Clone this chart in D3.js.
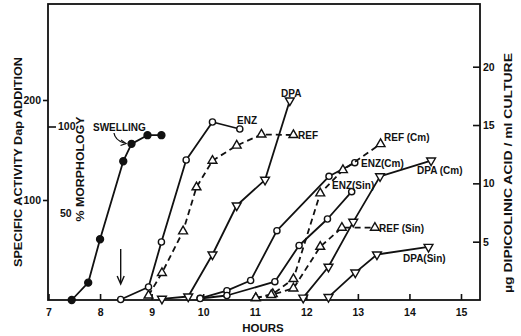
<!DOCTYPE html>
<html>
<head>
<meta charset="utf-8">
<script src="https://cdn.jsdelivr.net/npm/d3@7"></script>
<style>
  html, body { margin: 0; padding: 0; background: #fff; }
  svg { display: block; }
  text { font-family: "Liberation Sans", Arial, Helvetica, sans-serif; font-weight: bold; fill: #111; }
</style>
</head>
<body>
<svg id="chart" width="521" height="336"></svg>
<script>
// Time axis (hours) and the three value axes
const hourTicks = [7, 8, 9, 10, 11, 12, 13, 14, 15];
const activityTicks = [100, 200];
const morphologyTicks = [50, 100];
const dpaTicks = [5, 10, 15, 20];

// Swelling, % morphology (filled circles)
const swellingHours = [7.45, 7.77, 8.0, 8.45, 8.61, 8.92, 9.19];
const swellingPct = [0, 10, 35, 80, 90, 95, 95];

// Enzyme specific activity (open circles)
const enzHours = [8.40, 8.94, 9.19, 9.67, 10.18, 10.71];
const enzActivity = [0.5, 13, 58, 140, 178, 171];
const enzCmHours = [9.94, 10.46, 10.92, 11.43, 12.44, 12.94];
const enzCmActivity = [1.7, 9.3, 19.5, 69.3, 123.7, 137.3];
const enzSinHours = [9.94, 10.46, 11.39, 11.86, 12.41, 12.88];
const enzSinActivity = [1.5, 4.5, 18.3, 54.5, 81, 108.3];

// Refractility, % morphology (open triangles, dashed)
const refHours = [8.94, 9.20, 9.61, 9.87, 10.18, 10.65, 11.13, 11.75];
const refPct = [2.6, 15.6, 39.6, 65, 80.3, 89, 95.4, 95.1];
const refCmHours = [11.02, 11.35, 11.75, 12.27, 12.71, 13.44];
const refCmPct = [1.2, 3.5, 12.1, 61.5, 74.9, 89.9];
const refSinHours = [11.02, 11.32, 11.75, 12.27, 12.69, 13.33];
const refSinPct = [1.2, 2.9, 6.7, 30.7, 41.7, 41.7];

// Dipicolinic acid, µg/ml culture (inverted triangles)
const dpaHours = [9.20, 9.71, 10.18, 10.65, 11.20, 11.68];
const dpaUg = [0.1, 0.3, 3.9, 8.1, 10.3, 17.1];
const dpaCmHours = [11.94, 12.43, 12.91, 13.43, 14.42];
const dpaCmUg = [0.2, 2.85, 6.7, 10.6, 11.95];
const dpaSinHours = [12.43, 12.95, 13.37, 14.37];
const dpaSinUg = [0.25, 2.35, 3.9, 4.55];

const svg = d3.select("#chart");

const x = d3.scaleLinear().domain([7, 15]).range([48.5, 461]);
const yAct = d3.scaleLinear().domain([0, 200]).range([300, 100]);
const yPct = d3.scaleLinear().domain([0, 100]).range([300, 126.5]);
const yDpa = d3.scaleLinear().domain([0, 20]).range([300, 66.7]);

const frame = { left: 48, right: 480, top: 4, bottom: 300 };
const ink = "#111";

// Frame
svg.append("rect")
  .attr("x", frame.left).attr("y", frame.top)
  .attr("width", frame.right - frame.left).attr("height", frame.bottom - frame.top)
  .attr("fill", "none").attr("stroke", ink).attr("stroke-width", 1.8);

// Bottom axis: ticks pointing into the plot
const xAxis = svg.append("g").attr("transform", `translate(0,${frame.bottom})`)
  .call(d3.axisBottom(x).tickValues(hourTicks).tickSize(-6).tickPadding(9).tickFormat(d3.format("d")));
xAxis.select(".domain").remove();
xAxis.selectAll("line").attr("stroke", ink).attr("stroke-width", 1.6);
xAxis.selectAll("text").style("font-size", "10.5px").style("font-family", "Liberation Sans, Arial, sans-serif").style("font-weight", "bold").attr("fill", ink);

// Left axis: specific activity, ticks outward
const aAxis = svg.append("g").attr("transform", `translate(${frame.left},0)`)
  .call(d3.axisLeft(yAct).tickValues(activityTicks).tickSize(5).tickPadding(2));
aAxis.select(".domain").remove();
aAxis.selectAll("line").attr("stroke", ink).attr("stroke-width", 1.6);
aAxis.selectAll("text").style("font-size", "10.5px").style("font-family", "Liberation Sans, Arial, sans-serif").style("font-weight", "bold").attr("fill", ink);

// Inner axis: % morphology, ticks inward
const mAxis = svg.append("g").attr("transform", `translate(${frame.left},0)`)
  .call(d3.axisRight(yPct).tickValues(morphologyTicks).tickSize(8).tickPadding(2));
mAxis.select(".domain").remove();
mAxis.selectAll("line").attr("stroke", ink).attr("stroke-width", 1.6);
mAxis.selectAll("line").filter(d => d === 50).attr("x2", 0);
mAxis.selectAll("text").style("font-size", "10.5px").style("font-family", "Liberation Sans, Arial, sans-serif").style("font-weight", "bold").attr("fill", ink)
  .filter(d => d === 50).attr("x", 12);

// Right axis: DPA, ticks inward, labels outside
const dAxis = svg.append("g").attr("transform", `translate(${frame.right},0)`)
  .call(d3.axisRight(yDpa).tickValues(dpaTicks).tickSize(0).tickPadding(3));
dAxis.select(".domain").remove();
dAxis.selectAll(".tick").append("line").attr("x1", -7).attr("x2", 0).attr("stroke", ink).attr("stroke-width", 1.6);
dAxis.selectAll("text").style("font-size", "10.5px").style("font-family", "Liberation Sans, Arial, sans-serif").style("font-weight", "bold").attr("fill", ink);

// Axis titles
svg.append("text").attr("transform", "translate(22,162) rotate(-90)")
  .attr("text-anchor", "middle").style("font-size", "11.5px")
  .attr("textLength", 210).attr("lengthAdjust", "spacingAndGlyphs")
  .text("SPECIFIC ACTIVITY Dap ADDITION");
svg.append("text").attr("transform", "translate(84,169) rotate(-90)")
  .attr("text-anchor", "middle").style("font-size", "11.5px")
  .attr("textLength", 105).attr("lengthAdjust", "spacingAndGlyphs")
  .text("% MORPHOLOGY");
svg.append("text").attr("transform", "translate(512,173) rotate(-90)")
  .attr("text-anchor", "middle").style("font-size", "11.5px")
  .attr("textLength", 240).attr("lengthAdjust", "spacingAndGlyphs")
  .text("µg DIPICOLINIC ACID / ml CULTURE");
svg.append("text").attr("x", 263).attr("y", 332)
  .attr("text-anchor", "middle").style("font-size", "11.5px").text("HOURS");

// Series drawing helpers
const zip = (hs, vs) => hs.map((h, i) => [h, vs[i]]);
function drawLine(pts, yScale, dashed) {
  svg.append("path")
    .attr("d", d3.line().x(d => x(d[0])).y(d => yScale(d[1]))(pts))
    .attr("fill", "none").attr("stroke", ink).attr("stroke-width", 1.8)
    .attr("stroke-dasharray", dashed ? "6,4" : null)
    .attr("stroke-linejoin", "round");
}
function drawMarkers(pts, yScale, kind) {
  const g = svg.append("g");
  g.selectAll("path").data(pts).join("path")
    .attr("transform", d => {
      const rot = kind === "down" ? " rotate(180)" : "";
      return `translate(${x(d[0])},${yScale(d[1])})${rot}`;
    })
    .attr("d", kind === "filled" || kind === "open"
      ? d3.symbol(d3.symbolCircle, kind === "filled" ? 38 : 30)()
      : d3.symbol(d3.symbolTriangle, 34)())
    .attr("fill", kind === "filled" ? ink : "#fff")
    .attr("stroke", ink).attr("stroke-width", 1.4);
}
function series(hs, vs, yScale, kind, dashed) {
  const pts = zip(hs, vs);
  drawLine(pts, yScale, dashed);
  drawMarkers(pts, yScale, kind);
}

series(enzCmHours, enzCmActivity, yAct, "open", false);
series(enzSinHours, enzSinActivity, yAct, "open", false);
series(refCmHours, refCmPct, yPct, "up", true);
series(refSinHours, refSinPct, yPct, "up", true);
series(dpaCmHours, dpaCmUg, yDpa, "down", false);
series(dpaSinHours, dpaSinUg, yDpa, "down", false);
series(dpaHours, dpaUg, yDpa, "down", false);
series(refHours, refPct, yPct, "up", true);
series(enzHours, enzActivity, yAct, "open", false);
series(swellingHours, swellingPct, yPct, "filled", false);

// Series labels
const labels = [
  ["SWELLING", 93, 130.5],
  ["ENZ", 237, 124],
  ["REF", 298, 139],
  ["DPA", 281, 97],
  ["REF (Cm)", 384, 141],
  ["ENZ(Cm)", 361, 166.5],
  ["ENZ(Sin)", 332, 189],
  ["DPA (Cm)", 417, 174],
  ["REF (Sin)", 379, 231.5],
  ["DPA(Sin)", 403, 262]
];
svg.selectAll("text.lbl").data(labels).join("text").attr("class", "lbl")
  .attr("x", d => d[1]).attr("y", d => d[2])
  .style("font-size", "10px").text(d => d[0]);

// Curved pointer from the swelling label
svg.append("path").attr("d", "M114,133 Q115,140 124,143")
  .attr("fill", "none").attr("stroke", ink).attr("stroke-width", 1.3);
svg.append("path").attr("d", "M121,140 L126,143.5 L120.5,145.5")
  .attr("fill", "none").attr("stroke", ink).attr("stroke-width", 1.3);

// Down arrow marking the addition time
svg.append("line").attr("x1", x(8.4)).attr("x2", x(8.4)).attr("y1", 249).attr("y2", 283)
  .attr("stroke", ink).attr("stroke-width", 1.4);
svg.append("path").attr("d", `M${x(8.4) - 3.5},276 L${x(8.4)},284 L${x(8.4) + 3.5},276`)
  .attr("fill", "none").attr("stroke", ink).attr("stroke-width", 1.4);
</script>
</body>
</html>
